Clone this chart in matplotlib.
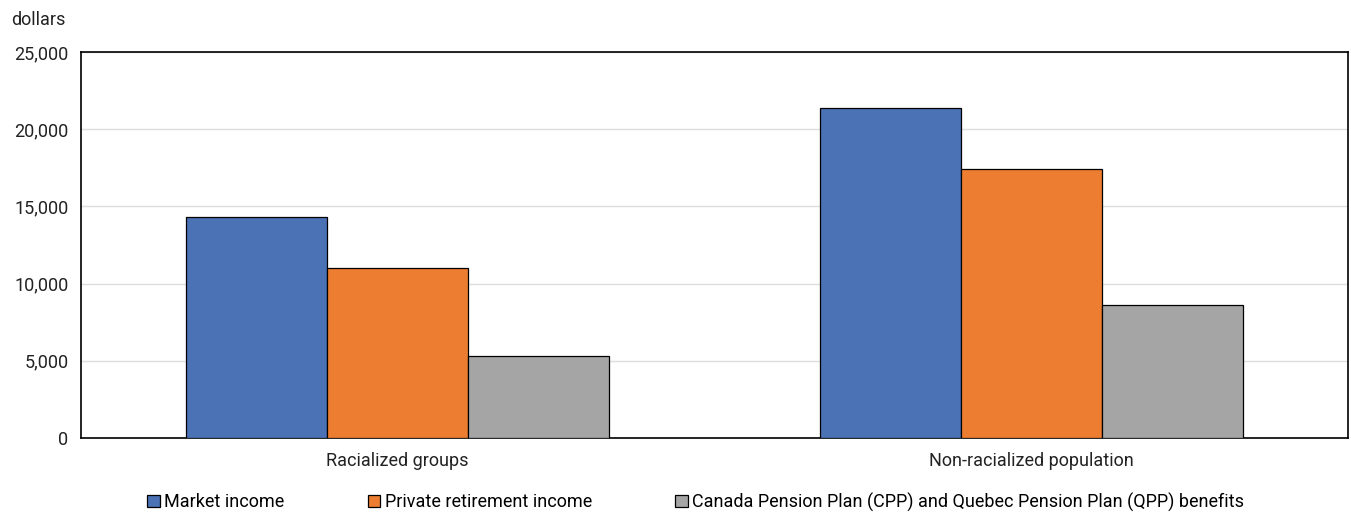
import matplotlib.pyplot as plt
import numpy as np
from matplotlib.ticker import FuncFormatter

# Average income by source, dollars
GROUPS = ["Racialized groups", "Non-racialized population"]
SERIES = [
    "Market income",
    "Private retirement income",
    "Canada Pension Plan (CPP) and Quebec Pension Plan (QPP) benefits",
]
MARKET = [14300, 21400]
PRIVATE = [11000, 17400]
CPP_QPP = [5300, 8600]
COLORS = ["#4A72B5", "#ED7D31", "#A5A5A5"]

plt.rcParams["font.family"] = ["Roboto", "DejaVu Sans"]
plt.rcParams["font.size"] = 13


def main():
    fig = plt.figure(figsize=(13.51, 5.13), dpi=100)
    ax = fig.add_axes([81 / 1351, 1 - 438 / 513, 1267 / 1351, 386 / 513])

    x = np.arange(len(GROUPS))
    width = 0.2226
    for i, (vals, label, col) in enumerate(zip([MARKET, PRIVATE, CPP_QPP], SERIES, COLORS)):
        ax.bar(x + (i - 1) * width, vals, width, color=col, edgecolor="black",
               linewidth=0.9, label=label, zorder=3)

    ax.set_xlim(-0.5, 1.5)
    ax.set_ylim(0, 25000)
    ax.set_yticks(np.arange(0, 25001, 5000))
    ax.yaxis.set_major_formatter(FuncFormatter(lambda v, _: f"{int(v):,}"))
    ax.set_xticks(x)
    ax.set_xticklabels(GROUPS)
    ax.tick_params(length=0, labelsize=13, colors="#222222")
    ax.tick_params(axis="y", pad=9)
    ax.tick_params(axis="x", pad=10)
    ax.grid(axis="y", color="#DDDDDD", linewidth=1, zorder=0)
    for side in ["top", "right", "bottom", "left"]:
        ax.spines[side].set_color("black")
        ax.spines[side].set_linewidth(1.2)

    fig.text(11 / 1351, 1 - 20 / 513, "dollars", fontsize=13, color="#222222",
             va="center", ha="left")

    ax.legend(loc="center left", bbox_to_anchor=(131 / 1351, 1 - 502 / 513),
              bbox_transform=fig.transFigure, ncol=3, frameon=False,
              handlelength=0.7, handleheight=0.7, handletextpad=0.25,
              columnspacing=4.6, fontsize=13)

    fig.savefig("out.png", dpi=100)


if __name__ == "__main__":
    main()
